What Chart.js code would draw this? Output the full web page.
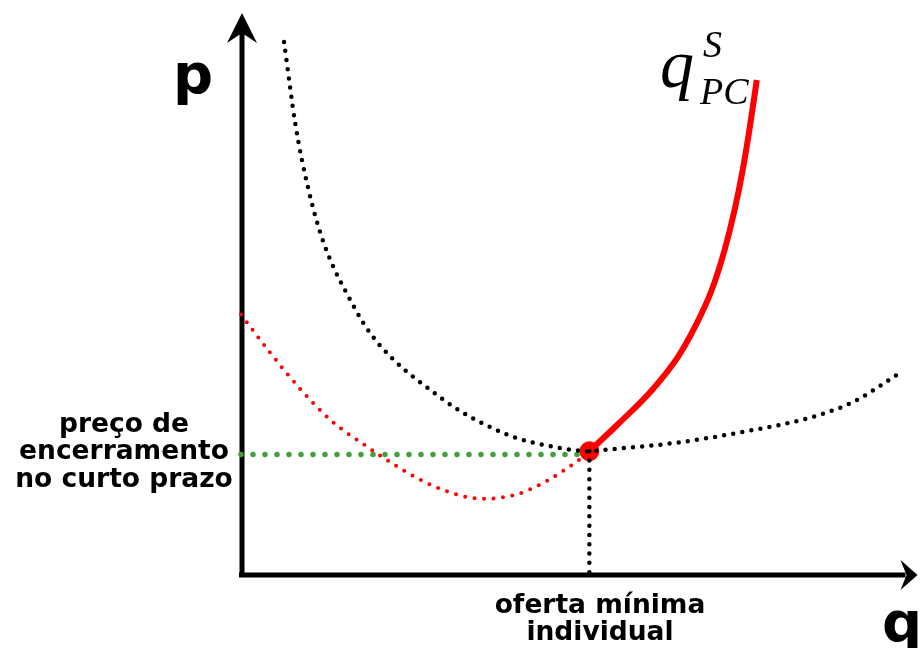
<!DOCTYPE html>
<html>
<head>
<meta charset="utf-8">
<script src="https://cdn.jsdelivr.net/npm/chart.js@4"></script>
<style>
  html, body { margin: 0; padding: 0; background: #fff; }
  #wrap { width: 924px; height: 648px; }
</style>
</head>
<body>
<div id="wrap"><canvas id="chart_cost" width="924" height="648"></canvas></div>
<script>
// quantity (x) and price (y), arbitrary units 0-100
const atcQ = [6.4, 8.1, 10.0, 12.3, 16.8, 19.2, 22.9, 28.2, 32.7, 37.6, 41.4, 46.8, 49.6, 51.8, 53.6, 64.6, 75.3, 84.9, 91.2, 97.6];
const atcP = [95.2, 80.4, 69.0, 59.3, 47.9, 43.2, 38.2, 33.0, 29.2, 26.1, 24.3, 22.8, 22.3, 22.1, 22.3, 23.6, 25.7, 28.2, 31.0, 35.8];

const mcQ = [0, 4.2, 8.6, 13.4, 19.0, 23.6, 28.4, 33.7, 36.4, 40.4, 41.8, 45.5, 47.9, 50.1, 51.8, 56.2, 61.1, 65.0, 67.5, 70.0, 71.9, 73.4, 74.6, 75.6, 76.7];
const mcP = [46.5, 39.9, 33.5, 27.6, 22.7, 19.1, 16.0, 13.9, 13.6, 14.2, 14.7, 16.8, 18.6, 20.4, 22.1, 27.1, 33.0, 39.0, 44.3, 50.9, 58.0, 65.2, 72.3, 79.5, 88.4];

// supply curve = part of MC above the shutdown point
const supplyStart = 14;

const shutdownQ = 51.8;
const shutdownP = 22.1;
const shutdownLineP = 21.5;

function toPoints(xs, ys) {
  return xs.map((x, i) => ({ x: x, y: ys[i] }));
}

const axesPlugin = {
  id: "axesArrows",
  beforeDatasetsDraw(chart) {
    const ctx = chart.ctx;
    const a = chart.chartArea;
    ctx.save();
    ctx.strokeStyle = "#000";
    ctx.fillStyle = "#000";
    ctx.lineWidth = 5;
    ctx.lineCap = "butt";
    // y axis
    ctx.beginPath();
    ctx.moveTo(a.left + 1, a.bottom + 2);
    ctx.lineTo(a.left + 1, a.top + 16);
    ctx.stroke();
    // x axis
    ctx.beginPath();
    ctx.moveTo(a.left - 2, a.bottom);
    ctx.lineTo(a.right - 8, a.bottom);
    ctx.stroke();
    // arrow heads
    ctx.beginPath();
    ctx.moveTo(a.left + 1, a.top - 2);
    ctx.lineTo(a.left + 16, a.top + 28);
    ctx.lineTo(a.left + 1, a.top + 18);
    ctx.lineTo(a.left - 14, a.top + 28);
    ctx.closePath();
    ctx.fill();
    ctx.beginPath();
    ctx.moveTo(a.right + 4, a.bottom);
    ctx.lineTo(a.right - 13, a.bottom - 15);
    ctx.lineTo(a.right - 7, a.bottom);
    ctx.lineTo(a.right - 13, a.bottom + 15);
    ctx.closePath();
    ctx.fill();
    ctx.restore();
  },
  afterDraw(chart) {
    const ctx = chart.ctx;
    ctx.save();
    ctx.fillStyle = "#000";
    ctx.textBaseline = "alphabetic";
    ctx.textAlign = "center";
    ctx.font = "bold 56px 'DejaVu Sans'";
    ctx.fillText("p", 193, 93);
    ctx.fillText("q", 902, 641);

    ctx.font = "bold 26.5px 'DejaVu Sans'";
    ctx.fillText("preço de", 124, 432);
    ctx.fillText("encerramento", 124, 459);
    ctx.fillText("no curto prazo", 124, 487);
    ctx.fillText("oferta mínima", 600, 613);
    ctx.fillText("individual", 600, 640);

    ctx.textAlign = "left";
    ctx.font = "italic 68px 'Liberation Serif'";
    ctx.fillText("q", 660, 87);
    ctx.font = "italic 38px 'Liberation Serif'";
    ctx.fillText("PC", 700, 104);
    ctx.font = "italic 38px 'Liberation Serif'";
    ctx.fillText("S", 703, 57);
    ctx.restore();
  },
};

const ctxCost = document.getElementById("chart_cost").getContext("2d");

const costChart = new Chart(ctxCost, {
  type: "scatter",
  data: {
    datasets: [
      {
        // custo médio (black dotted U)
        data: toPoints(atcQ, atcP),
        showLine: true,
        borderColor: "#000",
        borderWidth: 4.5,
        borderDash: [0, 9.2],
        borderCapStyle: "round",
        cubicInterpolationMode: "monotone",
        pointRadius: 0,
        order: 1,
      },
      {
        data: [{ x: shutdownQ, y: shutdownP }, { x: shutdownQ, y: 0 }],
        showLine: true,
        borderColor: "#000",
        borderWidth: 4.5,
        borderDash: [0, 9.3],
        borderCapStyle: "round",
        pointRadius: 0,
        order: 2,
      },
      {
        data: [{ x: shutdownQ, y: shutdownP }],
        backgroundColor: "#ff0000",
        borderColor: "#ff0000",
        borderWidth: 1,
        pointRadius: 9.5,
        order: 3,
      },
      {
        // oferta (solid red)
        data: toPoints(mcQ.slice(supplyStart), mcP.slice(supplyStart)),
        showLine: true,
        borderColor: "#ff0000",
        borderWidth: 6,
        cubicInterpolationMode: "monotone",
        pointRadius: 0,
        order: 4,
      },
      {
        // custo marginal (red dotted)
        data: toPoints(mcQ, mcP),
        showLine: true,
        borderColor: "#ff0000",
        borderWidth: 4,
        borderDash: [0, 9.5],
        borderCapStyle: "round",
        cubicInterpolationMode: "monotone",
        pointRadius: 0,
        order: 5,
      },
      {
        data: [{ x: 0, y: shutdownLineP }, { x: shutdownQ, y: shutdownLineP }],
        showLine: true,
        borderColor: "#3f9f3a",
        borderWidth: 5.5,
        borderDash: [0, 12],
        borderCapStyle: "round",
        pointRadius: 0,
        order: 6,
      },
    ],
  },
  options: {
    responsive: false,
    animation: false,
    clip: false,
    events: [],
    layout: {
      padding: { left: 241, right: 3, top: 15, bottom: 73 },
    },
    plugins: {
      legend: { display: false },
      tooltip: { enabled: false },
    },
    scales: {
      x: { type: "linear", min: 0, max: 100, display: false },
      y: { type: "linear", min: 0, max: 100, display: false },
    },
  },
  plugins: [axesPlugin],
});
</script>
</body>
</html>
